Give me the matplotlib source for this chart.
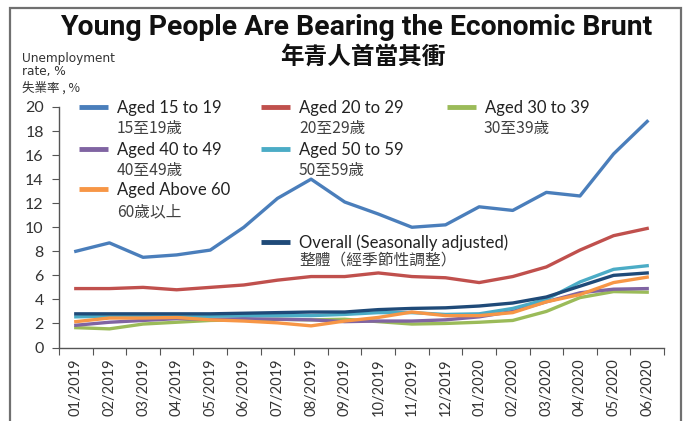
import matplotlib
matplotlib.use('Agg')
import matplotlib.pyplot as plt
from matplotlib.lines import Line2D
from matplotlib.patches import Rectangle

months = ['01/2019', '02/2019', '03/2019', '04/2019', '05/2019', '06/2019',
          '07/2019', '08/2019', '09/2019', '10/2019', '11/2019', '12/2019',
          '01/2020', '02/2020', '03/2020', '04/2020', '05/2020', '06/2020']
aged_15_19 = [8.0, 8.7, 7.5, 7.7, 8.1, 10.0, 12.4, 14.0, 12.1, 11.1, 10.0, 10.2,
              11.7, 11.4, 12.9, 12.6, 16.1, 18.8]
aged_20_29 = [4.9, 4.9, 5.0, 4.8, 5.0, 5.2, 5.6, 5.9, 5.9, 6.2, 5.9, 5.8,
              5.4, 5.9, 6.7, 8.1, 9.3, 9.9]
aged_30_39 = [1.65, 1.55, 1.95, 2.1, 2.25, 2.3, 2.35, 2.3, 2.35, 2.15, 1.95, 2.0,
              2.1, 2.25, 3.0, 4.15, 4.65, 4.6]
aged_40_49 = [1.85, 2.1, 2.25, 2.4, 2.35, 2.4, 2.35, 2.3, 2.15, 2.2, 2.2, 2.3,
              2.55, 3.0, 3.8, 4.55, 4.85, 4.9]
aged_50_59 = [2.55, 2.6, 2.65, 2.6, 2.6, 2.65, 2.65, 2.65, 2.75, 2.9, 2.9, 2.75,
              2.8, 3.25, 4.0, 5.45, 6.5, 6.8]
aged_above_60 = [2.15, 2.45, 2.45, 2.5, 2.3, 2.2, 2.05, 1.8, 2.2, 2.5, 2.95, 2.65,
                 2.65, 2.9, 3.8, 4.4, 5.4, 5.85]
overall_sa = [2.8, 2.8, 2.8, 2.8, 2.8, 2.85, 2.9, 2.95, 2.95, 3.15, 3.25, 3.3,
              3.45, 3.7, 4.2, 5.1, 6.0, 6.2]

series = [
    ('Aged 15 to 19', '15至19歲', aged_15_19, '#4a7ebb'),
    ('Aged 20 to 29', '20至29歲', aged_20_29, '#c0504d'),
    ('Aged 30 to 39', '30至39歲', aged_30_39, '#9bbb59'),
    ('Aged 40 to 49', '40至49歲', aged_40_49, '#8064a2'),
    ('Aged 50 to 59', '50至59歲', aged_50_59, '#4bacc6'),
    ('Aged Above 60', '60歲以上', aged_above_60, '#f79646'),
    ('Overall (Seasonally adjusted)', '整體（經季節性調整）', overall_sa, '#1f4a78'),
]

W, H = 686, 421
fig = plt.figure(figsize=(W / 100, H / 100), dpi=100)


def fx(px):
    return px / W


def fy(py):
    return 1 - py / H


CJK = ['Noto Sans CJK TC', 'DejaVu Sans']
TXT = ['Lato', 'DejaVu Sans']

ax = fig.add_axes([fx(59), fy(347.5), fx(664) - fx(59), fy(107) - fy(347.5)])
x = list(range(len(months)))
draw_order = [1, 0, 2, 3, 5, 4, 6]
for i in draw_order:
    en, zh, vals, col = series[i]
    ax.plot(x, vals, color=col, lw=2.4, solid_joinstyle='round', zorder=3 + i * 0.1)

ax.set_xlim(-0.5, len(months) - 0.5)
ax.set_ylim(0, 20)
ax.set_yticks(range(0, 21, 2))
ax.set_xticks([i - 0.5 for i in range(len(months) + 1)])
ax.set_xticklabels([])
ax.set_xticks(x, minor=True)
ax.set_xticklabels(months, minor=True, rotation=90, fontsize=10.5, color='#333333',
                   family=TXT)
ax.tick_params(axis='x', which='minor', length=0, pad=8)
ax.tick_params(axis='x', which='major', length=5, direction='out', color='#555555')
ax.tick_params(axis='y', length=5, direction='out', color='#555555', labelsize=11.5,
               labelcolor='#333333', pad=6)
for lab in ax.get_yticklabels():
    lab.set_family(TXT)
for s in ['top', 'right']:
    ax.spines[s].set_visible(False)
for s in ['left', 'bottom']:
    ax.spines[s].set_color('#555555')
    ax.spines[s].set_linewidth(1.0)

# legend entries
pos = [
    (79, 108, 117, 128),
    (261, 108, 299, 128),
    (447, 108, 484, 128),
    (79, 150, 117, 170),
    (261, 150, 299, 170),
    (79, 190, 117, 212),
    (261, 243, 299, 260),
]
for (en, zh, vals, col), (hx, hy, tx, ty) in zip(series, pos):
    h = Line2D([], [], color=col, lw=3.5, solid_capstyle='butt')
    fs = 12
    fig.legend([h], [en], loc='center left', bbox_to_anchor=(fx(hx), fy(hy)),
               bbox_transform=fig.transFigure, frameon=False, borderpad=0,
               borderaxespad=0, handlelength=29 / (fs * 100 / 72),
               handletextpad=9 / (fs * 100 / 72),
               prop={'family': TXT, 'size': fs}, labelcolor='#222222')
    fig.text(fx(tx), fy(ty), zh, ha='left', va='center', fontsize=11.3,
             color='#404040', family=CJK)

# titles
title = fig.text(fx(356), fy(35), 'Young People Are Bearing the Economic Brunt',
                 ha='center', va='baseline', fontsize=20, fontweight='bold',
                 family=['Roboto', 'DejaVu Sans'], color='#111111')
renderer = fig.canvas.get_renderer()
wpx = title.get_window_extent(renderer).width
title.set_fontsize(20 * 592 / wpx)

fig.text(fx(363), fy(57), '年青人首當其衝', ha='center', va='center', fontsize=17,
         fontweight='bold', family=CJK, color='#111111')

fig.text(fx(22), fy(62), 'Unemployment', ha='left', va='baseline', fontsize=8.7,
         color='#333333', family='DejaVu Sans')
fig.text(fx(22), fy(75), 'rate, %', ha='left', va='baseline', fontsize=8.7,
         color='#333333', family='DejaVu Sans')
fig.text(fx(22), fy(92), '失業率 , %', ha='left', va='baseline', fontsize=9,
         color='#333333', family=CJK)

# outer frame
fig.patches.append(Rectangle((fx(10), -0.1), fx(681) - fx(10), fy(8) + 0.1,
                             transform=fig.transFigure, fill=False,
                             edgecolor='#707070', lw=1.6))

fig.savefig('out.png', dpi=100)
